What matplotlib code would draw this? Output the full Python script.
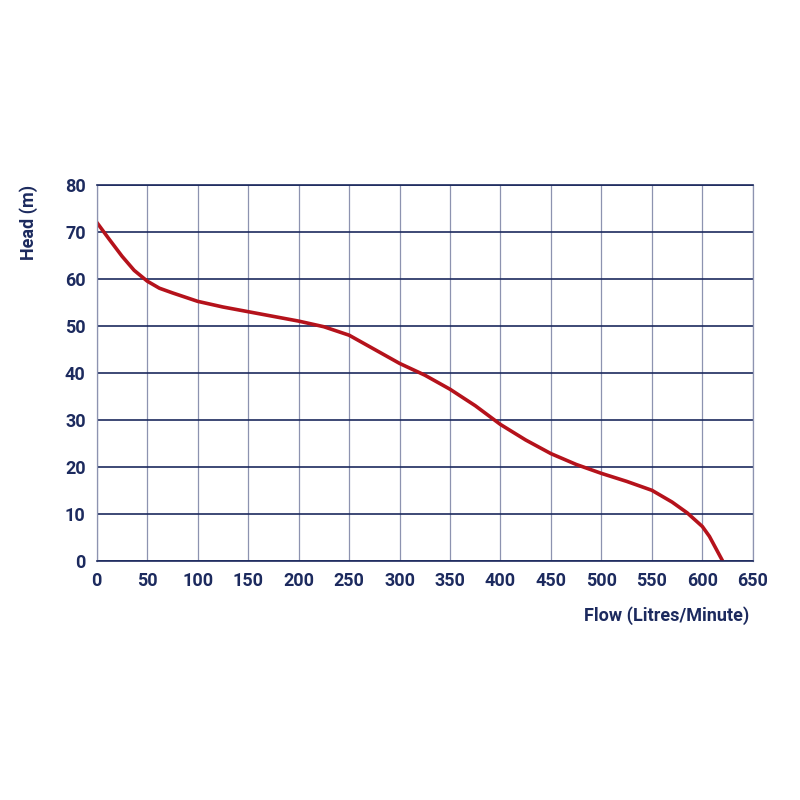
import matplotlib
matplotlib.use("Agg")
import matplotlib.pyplot as plt

flow = [0, 12, 25, 37, 50, 62, 75, 100, 125, 150, 175, 200, 225, 250, 275, 300, 325, 350, 375, 400, 425, 450, 475, 500, 525, 550, 570, 585, 600, 607, 613, 620]
head = [72, 68.5, 64.8, 61.8, 59.5, 58.0, 57.0, 55.2, 54.0, 53.0, 52.0, 51.0, 49.8, 48.0, 45.0, 42.0, 39.5, 36.5, 33.0, 29.0, 25.7, 22.8, 20.5, 18.6, 16.9, 15.0, 12.5, 10.2, 7.3, 5.2, 2.8, 0]
xticks = list(range(0, 651, 50))
yticks = list(range(0, 81, 10))

navy = "#1c2a5e"
plt.rcParams['font.family'] = ['Roboto', 'DejaVu Sans']
fig = plt.figure(figsize=(8, 8), dpi=100)
ax = fig.add_axes([0.121, 0.299, 0.820, 0.470])
ax.plot(flow, head, color="#b5121b", lw=2.6, solid_capstyle='round')
ax.set_xlim(0, 650); ax.set_ylim(0, 80)
ax.set_xticks(xticks); ax.set_yticks(yticks)
ax.grid(axis='x', color="#8d93b0", lw=0.9)
ax.grid(axis='y', color=navy, lw=1.2)
ax.set_axisbelow(True)
for s in ['top', 'bottom']:
    ax.spines[s].set_color(navy); ax.spines[s].set_linewidth(1.2)
for s in ['left', 'right']:
    ax.spines[s].set_color("#8d93b0"); ax.spines[s].set_linewidth(0.9)
ax.tick_params(length=0, labelsize=13, colors=navy, pad=8)
for l in ax.get_xticklabels() + ax.get_yticklabels():
    l.set_fontweight('bold')
ax.set_ylabel("Head (m)", fontsize=13, fontweight='bold', color=navy)
ax.yaxis.set_label_coords(-0.09, 0.9)
ax.set_xlabel("Flow (Litres/Minute)", fontsize=13, fontweight='bold', color=navy, loc='right')
ax.xaxis.set_label_coords(0.995, -0.12)
fig.savefig("out.png")
